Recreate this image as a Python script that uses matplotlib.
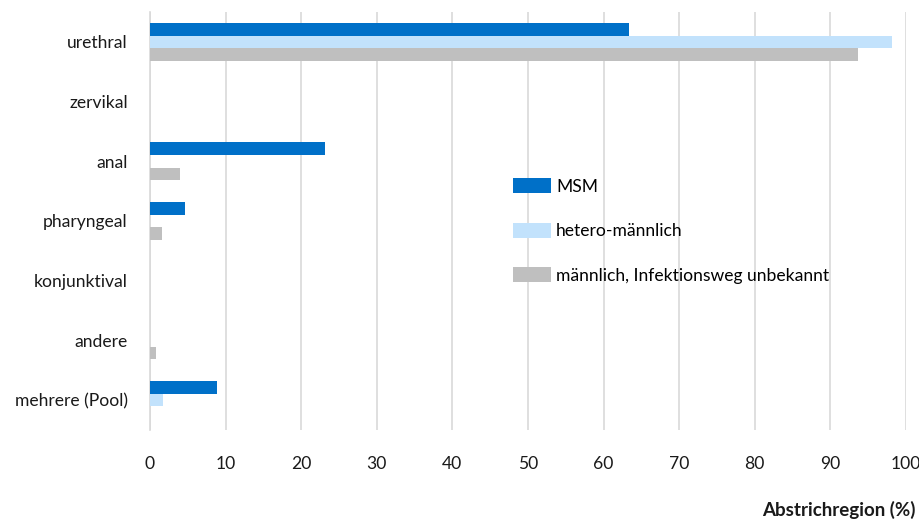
import matplotlib
matplotlib.use("Agg")
import matplotlib.pyplot as plt
import numpy as np
from matplotlib.patches import Patch

plt.rcParams['font.family'] = ['Lato', 'DejaVu Sans']

categories = ["urethral", "zervikal", "anal", "pharyngeal", "konjunktival", "andere", "mehrere (Pool)"]
series_names = ["MSM", "hetero-männlich", "männlich, Infektionsweg unbekannt"]
msm = [63.4, 0, 23.1, 4.6, 0, 0, 8.8]
hetero = [98.2, 0, 0, 0, 0, 0, 1.7]
unknown = [93.6, 0, 4.0, 1.6, 0, 0.8, 0]
xticks = [0, 10, 20, 30, 40, 50, 60, 70, 80, 90, 100]
xlabel = "Abstrichregion (%)"

colors = ["#0070C8", "#C2E2FC", "#BFBFBF"]
fs = 12.6

fig = plt.figure(figsize=(9.2, 5.22), dpi=100)
ax = fig.add_axes([150/920, 1-430/522, 756/920, 418/522])

y = np.arange(len(categories))
h = 0.21
for i, (vals, col) in enumerate(zip([msm, hetero, unknown], colors)):
    ax.barh(y + (i - 1) * h, vals, height=h, color=col, zorder=3)

ax.set_ylim(len(categories) - 0.5, -0.5)
ax.set_xlim(0, 100)
ax.set_yticks(y)
ax.set_yticklabels(categories, fontsize=fs, color="#1a1a1a")
ax.set_xticks(xticks)
ax.set_xticklabels([str(t) for t in xticks], fontsize=fs, color="#1a1a1a")
ax.tick_params(axis='x', length=0, pad=19)
ax.tick_params(axis='y', length=0, pad=16)
ax.grid(axis='x', color="#D9D9D9", linewidth=1.2, zorder=0)
for s in ["top", "right", "bottom"]:
    ax.spines[s].set_visible(False)
ax.spines["left"].set_color("#D9D9D9")
ax.spines["left"].set_linewidth(1.2)

fig.text(916/920, 1-510/522, xlabel, ha='right', va='center', fontsize=13.5, fontweight='bold', color="#1a1a1a")

handles = [Patch(facecolor=c, edgecolor='none') for c in colors]
fig.legend(handles, series_names, loc='upper left', bbox_to_anchor=(506/920, 1-171/522),
           frameon=False, fontsize=fs, handlelength=2.17, handleheight=0.95,
           labelspacing=1.6, handletextpad=0.3, borderaxespad=0)

fig.savefig("out.png", dpi=100)
